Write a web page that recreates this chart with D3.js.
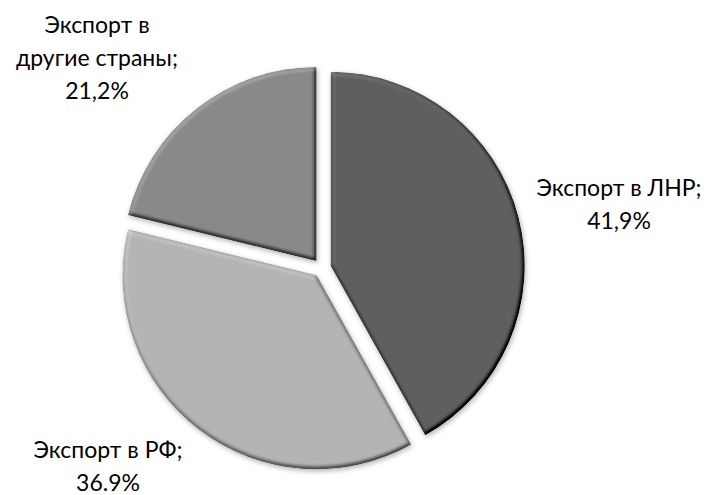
<!DOCTYPE html>
<html>
<head>
<meta charset="utf-8">
<script src="https://cdn.jsdelivr.net/npm/d3@7"></script>
<style>
  html, body { margin: 0; padding: 0; background: #fff; }
  svg { display: block; }
  text { font-family: Lato, "Open Sans", sans-serif; fill: #000; }
</style>
</head>
<body>
<svg id="chart" width="708" height="495"></svg>
<script>
// Export structure, share of total (%)
const categories = ["Экспорт в ЛНР", "Экспорт в РФ", "Экспорт в другие страны"];
const shares = [41.9, 36.9, 21.2];
const shareLabels = ["41,9%", "36.9%", "21,2%"];
const sliceColors = ["#5f5f5f", "#b4b4b4", "#898989"];

const W = 708, H = 495;
const cx = 322, cy = 268, radius = 194, explode = 9;

const svg = d3.select("#chart");

// Bevel + soft shadow for each wedge
const defs = svg.append("defs");
const f = defs.append("filter").attr("id", "bevel")
  .attr("x", "-20%").attr("y", "-20%").attr("width", "140%").attr("height", "140%")
  .attr("color-interpolation-filters", "sRGB");
f.append("feGaussianBlur").attr("in", "SourceAlpha").attr("stdDeviation", 2).attr("result", "b");
const dl = f.append("feDiffuseLighting").attr("in", "b").attr("surfaceScale", 3)
  .attr("diffuseConstant", 1).attr("lighting-color", "#fff").attr("result", "d");
dl.append("feDistantLight").attr("azimuth", 235).attr("elevation", 60);
f.append("feComposite").attr("in", "SourceGraphic").attr("in2", "d").attr("operator", "arithmetic")
  .attr("k1", 0).attr("k2", 1).attr("k3", 0.7).attr("k4", -0.606).attr("result", "lit");
f.append("feComposite").attr("in", "lit").attr("in2", "SourceAlpha").attr("operator", "in").attr("result", "litIn");
f.append("feGaussianBlur").attr("in", "SourceAlpha").attr("stdDeviation", 2.5).attr("result", "sb");
f.append("feOffset").attr("in", "sb").attr("dx", 1).attr("dy", 1.5).attr("result", "so");
f.append("feFlood").attr("flood-color", "#000").attr("flood-opacity", 0.3);
f.append("feComposite").attr("in2", "so").attr("operator", "in").attr("result", "shadow");
const m = f.append("feMerge");
m.append("feMergeNode").attr("in", "shadow");
m.append("feMergeNode").attr("in", "litIn");

const pie = d3.pie().sort(null).value(d => d)(shares);
const arc = d3.arc().innerRadius(0).outerRadius(radius);

const g = svg.append("g").attr("transform", `translate(${cx},${cy})`);
g.selectAll("path.slice")
  .data(pie)
  .join("path")
  .attr("class", "slice")
  .attr("d", arc)
  .attr("fill", (d, i) => sliceColors[i])
  .attr("filter", "url(#bevel)")
  .attr("transform", d => {
    const a = (d.startAngle + d.endAngle) / 2;
    return `translate(${explode * Math.sin(a)},${-explode * Math.cos(a)})`;
  });

// Data labels outside the pie
const labelLines = [
  ["Экспорт в ЛНР;", shareLabels[0]],
  ["Экспорт в РФ;", shareLabels[1]],
  ["Экспорт в", "другие страны;", shareLabels[2]]
];
const labelPos = [
  { x: 619, y: 196 },
  { x: 108, y: 458 },
  { x: 97, y: 33 }
];
const lineH = 33;

labelLines.forEach((lines, i) => {
  const t = svg.append("text")
    .attr("text-anchor", "middle")
    .attr("font-size", 23);
  lines.forEach((s, j) => {
    t.append("tspan").attr("x", labelPos[i].x).attr("y", labelPos[i].y + j * lineH).text(s);
  });
});
</script>
</body>
</html>
